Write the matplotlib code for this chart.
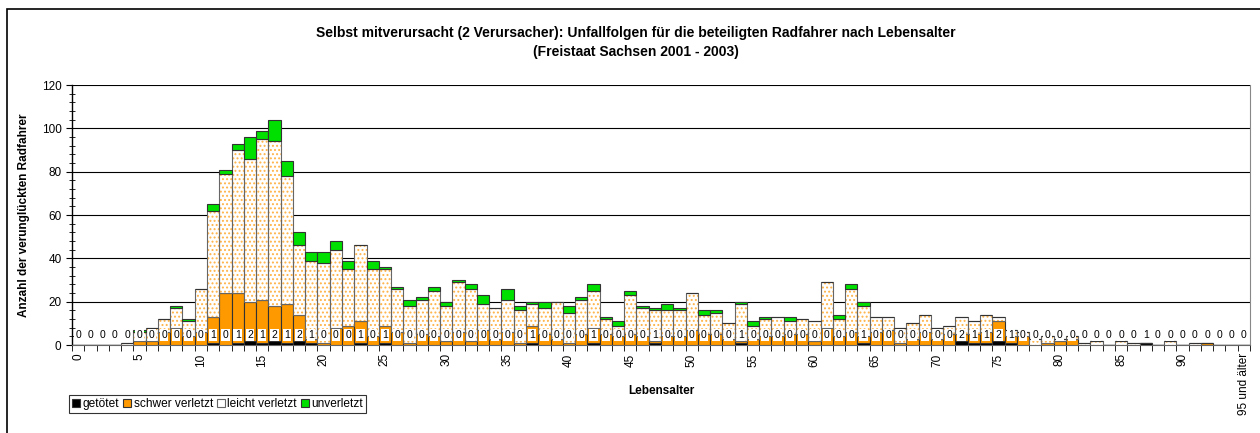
import numpy as np
import matplotlib.pyplot as plt
from matplotlib.patches import Patch, Rectangle

# Altersklassen 0 .. 95 (95 = "95 und älter")
alter = np.arange(96)

getoetet = [0, 0, 0, 0, 0, 0, 0, 0, 0, 0,
            0, 1, 0, 1, 2, 1, 2, 1, 2, 1,
            0, 0, 0, 1, 0, 1, 0, 0, 0, 0,
            0, 0, 0, 0, 0, 0, 0, 1, 0, 0,
            0, 0, 1, 0, 0, 0, 0, 1, 0, 0,
            0, 0, 0, 0, 1, 0, 0, 0, 0, 0,
            0, 0, 0, 0, 1, 0, 0, 0, 0, 0,
            0, 0, 2, 1, 1, 2, 1, 0, 0, 0,
            0, 0, 0, 0, 0, 0, 0, 1, 0, 0,
            0, 0, 0, 0, 0, 0]

schwer = [0, 0, 0, 0, 0, 2, 2, 6, 8, 4,
          6, 12, 24, 23, 18, 20, 16, 18, 12, 2,
          1, 8, 9, 10, 4, 8, 6, 1, 5, 4,
          2, 6, 2, 7, 3, 6, 1, 8, 5, 3,
          1, 5, 7, 5, 4, 5, 4, 1, 4, 4,
          7, 5, 5, 3, 1, 3, 4, 4, 5, 5,
          2, 8, 4, 6, 3, 6, 7, 1, 3, 6,
          3, 5, 3, 4, 5, 9, 3, 4, 0, 1,
          2, 3, 0, 0, 0, 0, 0, 0, 0, 0,
          0, 0, 1, 0, 0, 0]

leicht = [0, 0, 0, 0, 1, 4, 6, 6, 9, 7,
          20, 49, 55, 66, 66, 74, 76, 59, 32, 36,
          37, 36, 26, 35, 31, 26, 20, 17, 16, 21,
          16, 23, 24, 12, 14, 15, 15, 10, 12, 17,
          14, 16, 17, 7, 5, 18, 13, 14, 12, 12,
          17, 9, 10, 7, 17, 6, 8, 9, 6, 7,
          9, 21, 8, 20, 14, 7, 6, 7, 7, 8,
          5, 4, 8, 6, 8, 2, 3, 2, 3, 3,
          1, 1, 1, 2, 0, 2, 1, 0, 0, 2,
          0, 1, 0, 0, 0, 0]

unverletzt = [0, 0, 0, 0, 0, 1, 0, 0, 1, 1,
              0, 3, 2, 3, 10, 4, 10, 7, 6, 4,
              5, 4, 4, 0, 4, 1, 1, 3, 1, 2,
              2, 1, 2, 4, 0, 5, 2, 1, 3, 0,
              3, 1, 3, 1, 2, 2, 1, 1, 3, 1,
              0, 2, 1, 0, 1, 2, 1, 0, 2, 0,
              0, 0, 2, 2, 2, 0, 0, 0, 0, 0,
              0, 0, 0, 0, 0, 0, 0, 0, 0, 0,
              0, 0, 0, 0, 0, 0, 0, 0, 0, 0,
              0, 0, 0, 0, 0, 0]

x_labels = {i: str(i) for i in range(0, 95, 5)}
x_labels[95] = "95 und älter"

orange = '#FF9900'
gruen = '#00E000'
rand = '#333333'

plt.rcParams['font.family'] = ['Liberation Sans', 'DejaVu Sans']
plt.rcParams['hatch.linewidth'] = 0.9

g = np.array(getoetet)
s = np.array(schwer)
l = np.array(leicht)
u = np.array(unverletzt)

fig = plt.figure(figsize=(12.6, 4.33), dpi=100)
ax = fig.add_axes([72/1260, 88/433, 1178/1260, 260/433])

ax.bar(alter, g, width=1, color='black', edgecolor=rand, linewidth=0.8, zorder=3)
ax.bar(alter, s, width=1, bottom=g, color=orange, edgecolor=rand, linewidth=0.8, zorder=3)
# leicht verletzt: weiss mit orangen Punkten
ax.bar(alter, l, width=1, bottom=g + s, color='white', edgecolor='#FFB347',
       hatch='....', linewidth=0, zorder=3)
ax.bar(alter, l, width=1, bottom=g + s, fill=False, edgecolor='#666666',
       linewidth=0.8, zorder=3)
ax.bar(alter, u, width=1, bottom=g + s + l, color=gruen, edgecolor=rand,
       linewidth=0.8, zorder=3)

# Beschriftung getötet
for xi, v in zip(alter, getoetet):
    ax.text(xi, 4.6, str(v), ha='center', va='center', fontsize=7.5, zorder=5,
            bbox=dict(boxstyle='square,pad=0.12', fc='white', ec='none'))

ax.set_xlim(-0.5, 95.5)
ax.set_ylim(0, 120)
ax.set_yticks(range(0, 121, 20))
ax.set_yticks(range(0, 121, 4), minor=True)
ax.yaxis.grid(True, color='black', linewidth=0.8, zorder=0)
ax.tick_params(axis='y', which='major', direction='out', length=4, labelsize=8.5)
ax.tick_params(axis='y', which='minor', direction='inout', length=4)

ax.set_xticks(list(x_labels.keys()))
ax.set_xticklabels(list(x_labels.values()), rotation=90, fontsize=8.5)
ax.set_xticks(np.arange(-0.5, 96, 1), minor=True)
ax.tick_params(axis='x', which='major', length=0, pad=6)
ax.tick_params(axis='x', which='minor', direction='out', length=4)

ax.spines['top'].set_visible(False)
ax.spines['right'].set_color('#888888')
ax.spines['left'].set_linewidth(1.0)
ax.spines['bottom'].set_color('#666666')

ax.set_xlabel('Lebensalter', fontsize=8.5, fontweight='bold')
ax.xaxis.set_label_coords(0.5, -0.155)
ax.set_ylabel('Anzahl der verunglückten Radfahrer', fontsize=8.5, fontweight='bold')
ax.yaxis.set_label_coords(-0.036, 0.5)

fig.text(0.505, 1 - 33/433, 'Selbst mitverursacht (2 Verursacher): Unfallfolgen für die beteiligten Radfahrer nach Lebensalter',
         ha='center', va='center', fontsize=10, fontweight='bold')
fig.text(0.505, 1 - 52/433, '(Freistaat Sachsen 2001 - 2003)',
         ha='center', va='center', fontsize=10, fontweight='bold')

handles = [Patch(facecolor='black', edgecolor=rand, linewidth=0.8),
           Patch(facecolor=orange, edgecolor=rand, linewidth=0.8),
           Patch(facecolor='white', edgecolor='#666666', linewidth=0.8),
           Patch(facecolor=gruen, edgecolor=rand, linewidth=0.8)]
leg = fig.legend(handles, ['getötet', 'schwer verletzt', 'leicht verletzt', 'unverletzt'],
                 loc='lower left', bbox_to_anchor=(69/1260, 1 - 413/433), ncol=4,
                 fontsize=8.6, frameon=True, fancybox=False, handlelength=0.7,
                 handleheight=0.7, handletextpad=0.2, columnspacing=0.3,
                 borderpad=0.25, borderaxespad=0)
leg.get_frame().set_edgecolor('black')
leg.get_frame().set_linewidth(0.8)

# äusserer Rahmen
fig.patches.append(Rectangle((7/1260, -0.05), 1.1, 1 - 9/433 + 0.05,
                             transform=fig.transFigure, fill=False,
                             edgecolor='black', linewidth=1.2))

fig.savefig('out.png', dpi=100)
